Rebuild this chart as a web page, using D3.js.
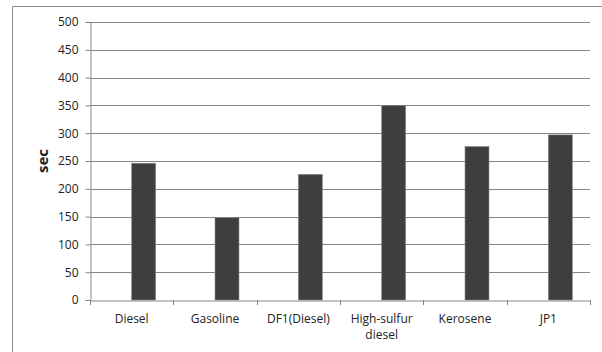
<!DOCTYPE html>
<html>
<head>
<meta charset="utf-8">
<script src="https://cdn.jsdelivr.net/npm/d3@7"></script>
<style>
  body { margin: 0; background: #fff; }
  text { font-family: "Open Sans", "Noto Sans", sans-serif; fill: #222; }
</style>
</head>
<body>
<div id="chart"></div>
<script>
const fuels = ["Diesel", "Gasoline", "DF1(Diesel)", "High-sulfur diesel", "Kerosene", "JP1"];
const secValues = [246, 148, 226, 350, 276, 297];
const yTicks = [0, 50, 100, 150, 200, 250, 300, 350, 400, 450, 500];

const W = 602, H = 352;
const margin = { top: 22, right: 12, bottom: 52, left: 90 };
const width = W - margin.left - margin.right;
const height = H - margin.top - margin.bottom;

const root = d3.select("#chart").append("svg")
  .attr("width", W)
  .attr("height", H);

// outer chart border (cut off on right and bottom)
root.append("path")
  .attr("d", `M12.5,${H} L12.5,6.5 L${W},6.5`)
  .attr("fill", "none")
  .attr("stroke", "#8c8c8c")
  .attr("stroke-width", 1);

const svg = root.append("g")
  .attr("transform", `translate(${margin.left},${margin.top})`);

const x = d3.scaleBand().domain(fuels).range([0, width]);
// two slots per category, the first one empty (bars sit right of centre)
const xSub = d3.scaleBand().domain(["empty", "sec"])
  .range([x.bandwidth() * 0.212, x.bandwidth() * 0.788]);
const y = d3.scaleLinear().domain([0, 500]).range([height, 0]);

// gridlines
svg.append("g")
  .selectAll("line")
  .data(yTicks.filter(d => d > 0))
  .join("line")
  .attr("x1", 0)
  .attr("x2", width)
  .attr("y1", d => Math.round(y(d)) + 0.5)
  .attr("y2", d => Math.round(y(d)) + 0.5)
  .attr("stroke", "#868686")
  .attr("stroke-width", 1);

// bars
svg.append("g")
  .selectAll("rect")
  .data(fuels)
  .join("rect")
  .attr("x", (d, i) => x(d) + xSub("sec"))
  .attr("y", (d, i) => y(secValues[i]))
  .attr("width", xSub.bandwidth())
  .attr("height", (d, i) => y(0) - y(secValues[i]))
  .attr("fill", "#3e3e3e")
  .attr("stroke", "#8a8a8a")
  .attr("stroke-width", 0.6);

// y axis
const yAxis = svg.append("g")
  .attr("transform", "translate(0.5,0)")
  .call(d3.axisLeft(y).tickValues(yTicks).tickSize(5).tickPadding(7));
yAxis.select(".domain").attr("stroke", "#868686");
yAxis.selectAll(".tick line").attr("stroke", "#868686");
yAxis.selectAll(".tick text")
  .style("font-size", "12px")
  .attr("fill", "#222");

// x axis
const xAxis = svg.append("g")
  .attr("transform", `translate(0,${Math.round(height) + 0.5})`)
  .call(d3.axisBottom(x).tickSize(0).tickFormat(""));
xAxis.select(".domain").attr("stroke", "#868686");
xAxis.selectAll(".tick").remove();

svg.append("g")
  .selectAll("line")
  .data(d3.range(fuels.length + 1))
  .join("line")
  .attr("x1", i => Math.round(i * x.step()) + 0.5)
  .attr("x2", i => Math.round(i * x.step()) + 0.5)
  .attr("y1", height)
  .attr("y2", height + 5)
  .attr("stroke", "#868686");

// category labels (wrap the long one)
const labels = svg.append("g")
  .selectAll("text")
  .data(fuels)
  .join("text")
  .attr("x", d => x(d) + x.bandwidth() / 2)
  .attr("y", height + 23)
  .attr("text-anchor", "middle")
  .style("font-size", "12px");
labels.each(function(d) {
  const t = d3.select(this);
  const parts = d === "High-sulfur diesel" ? ["High-sulfur", "diesel"] : [d];
  parts.forEach((p, k) => {
    t.append("tspan")
      .attr("x", x(d) + x.bandwidth() / 2)
      .attr("dy", k === 0 ? 0 : 16)
      .text(p);
  });
});

// y axis title
svg.append("text")
  .attr("transform", "rotate(-90)")
  .attr("x", -(y(250)))
  .attr("y", -42)
  .attr("text-anchor", "middle")
  .style("font-size", "15px")
  .style("font-weight", "bold")
  .text("sec");
</script>
</body>
</html>
